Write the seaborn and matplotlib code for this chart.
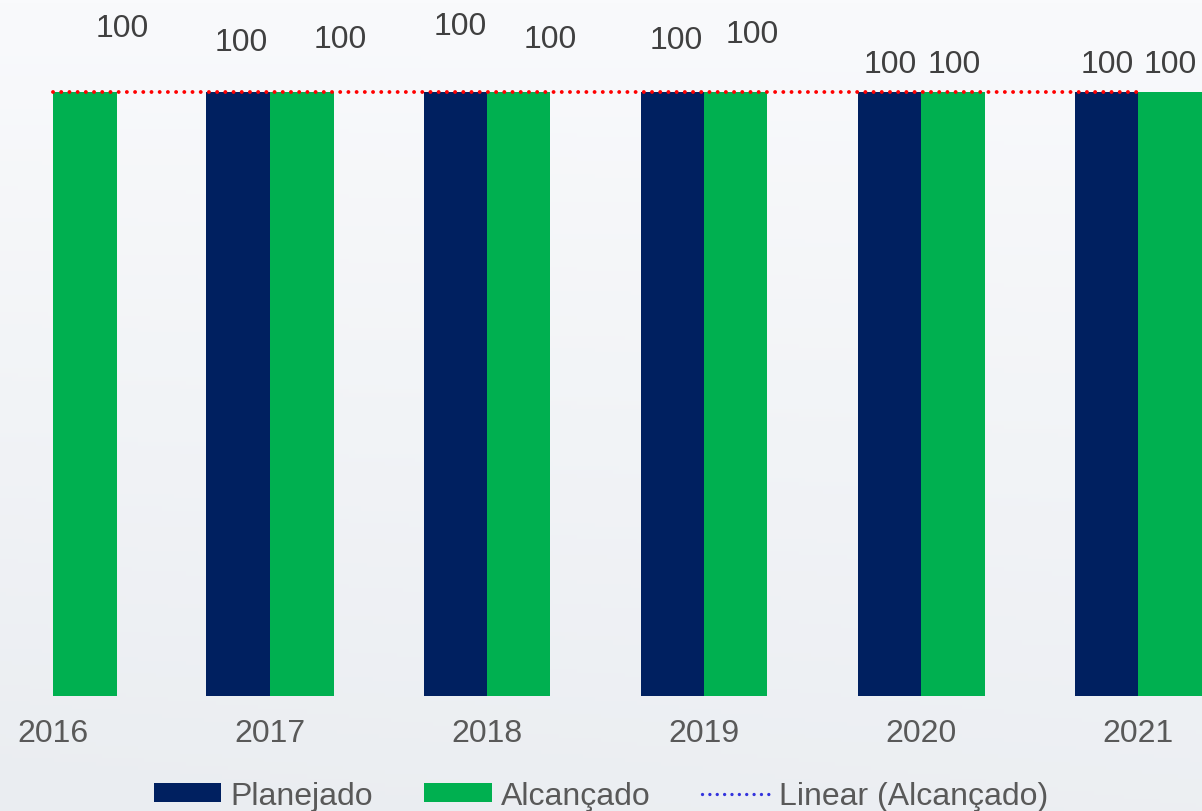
import numpy as np
import pandas as pd
import matplotlib
matplotlib.use("Agg")
import matplotlib.pyplot as plt
from matplotlib.patches import Patch
from matplotlib.lines import Line2D
import seaborn as sns

# ---- data ----
anos = ["2016", "2017", "2018", "2019", "2020", "2021"]
planejado = [None, 100, 100, 100, 100, 100]
alcancado = [100, 100, 100, 100, 100, 100]
series_names = ["Planejado", "Alcançado"]
trend_name = "Linear (Alcançado)"

# label offsets (pixels) from bar top, as manually placed in the original
lab_dx_plan = [0, 3, 5, 4, 1, 1]
lab_dy_plan = [0, 50, 66, 52, 28, 28]
lab_dx_alc = [37, 39, 32, 17, 1, 1]
lab_dy_alc = [64, 53, 53, 58, 28, 28]

# ---- styling ----
NAVY = "#002060"
GREEN = "#00B050"
RED = "#FF0000"
BLUE_DOT = "#3333DD"
LABEL_C = "#404040"
TICK_C = "#595959"
FS = 23

sns.set_theme(style="white")
plt.rcParams["font.family"] = ["Liberation Sans", "DejaVu Sans"]

W, H = 1202, 812
fig = plt.figure(figsize=(W / 100, H / 100), dpi=100)

# background gradient
bg = fig.add_axes([0, 0, 1, 1], zorder=-10)
yy, xx = np.mgrid[0:1:200j, 0:1:200j]
top = np.array([0xF9, 0xFA, 0xFC]) / 255
bot = np.array([0xEA, 0xED, 0xF1]) / 255
t = np.clip(yy * 0.85 + (1 - xx) * 0.15 * yy, 0, 1)[..., None]
img = top * (1 - t) + bot * t
bg.imshow(img, aspect="auto", extent=[0, 1, 0, 1], origin="upper")
bg.axis("off")

# main axes: bottom baseline at y=697px, full width
base_px = 697
ax = fig.add_axes([0, (H - base_px) / H, 1, base_px / H])
ax.set_facecolor("none")

rows = []
for i, a in enumerate(anos):
    if planejado[i] is not None:
        rows.append({"Ano": a, "Valor": planejado[i], "Série": series_names[0]})
    if alcancado[i] is not None:
        rows.append({"Ano": a, "Valor": alcancado[i], "Série": series_names[1]})
df = pd.DataFrame(rows)

bar_w = 63.5 / 217  # each bar
sns.barplot(data=df, x="Ano", y="Valor", hue="Série", order=anos,
            hue_order=series_names, palette=[NAVY, GREEN], saturation=1,
            width=2 * bar_w, gap=0, linewidth=0, errorbar=None,
            legend=False, ax=ax)

# linear trend of Alcançado
xi = np.arange(len(anos))
coef = np.polyfit(xi, np.array(alcancado, dtype=float), 1)
trend = np.polyval(coef, xi)
ax.plot(xi, trend, color=RED, lw=2.8, linestyle=(0, (0.01, 2.1)),
        dash_capstyle="round", zorder=5)

# axes limits: 100 at y=93px
ax.set_ylim(0, 100 * base_px / (base_px - 93))
ax.set_xlim(-53 / 217, (W - 53) / 217)

# data labels
for i in range(len(anos)):
    if planejado[i] is not None:
        ax.annotate(f"{planejado[i]:g}", xy=(i - bar_w / 2, planejado[i]),
                    xytext=(lab_dx_plan[i], lab_dy_plan[i]),
                    textcoords="offset pixels", ha="center", va="center",
                    fontsize=FS, color=LABEL_C, annotation_clip=False)
    if alcancado[i] is not None:
        ax.annotate(f"{alcancado[i]:g}", xy=(i + bar_w / 2, alcancado[i]),
                    xytext=(lab_dx_alc[i], lab_dy_alc[i]),
                    textcoords="offset pixels", ha="center", va="center",
                    fontsize=FS, color=LABEL_C, annotation_clip=False)

ax.set_xlabel("")
ax.set_ylabel("")
ax.set_yticks([])
ax.tick_params(axis="x", length=0, pad=16, labelsize=FS, labelcolor=TICK_C)
for s in ax.spines.values():
    s.set_visible(False)

handles = [Patch(facecolor=NAVY, edgecolor="none", label=series_names[0]),
           Patch(facecolor=GREEN, edgecolor="none", label=series_names[1]),
           Line2D([0], [0], color=BLUE_DOT, lw=2.4, linestyle=(0, (0.01, 2.2)),
                  dash_capstyle="round", label=trend_name)]
leg = fig.legend(handles=handles, loc="center", bbox_to_anchor=(0.5, 1 - 797 / H),
                 ncol=3, frameon=False, fontsize=FS, handlelength=2.1,
                 handleheight=0.55, handletextpad=0.3, columnspacing=1.6,
                 borderaxespad=0, borderpad=0)
for txt in leg.get_texts():
    txt.set_color(TICK_C)

fig.savefig("out.png", dpi=100)
